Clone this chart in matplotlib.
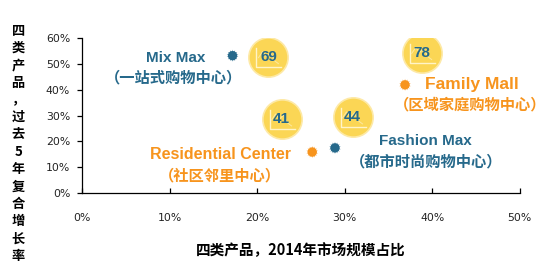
import matplotlib
matplotlib.use("Agg")
import matplotlib.pyplot as plt
from matplotlib.transforms import Affine2D
from matplotlib.ticker import FuncFormatter

# ---- data ----
names = ["Mix Max", "Family Mall", "Residential Center", "Fashion Max"]
names_cn = ["（一站式购物中心）", "（区域家庭购物中心）", "（社区邻里中心）", "（都市时尚购物中心）"]
share_2014 = [17.2, 36.9, 26.3, 28.9]       # x, %
cagr_5y = [53.2, 41.9, 15.9, 17.5]          # y, %
bubble_vals = [69, 78, 41, 44]
bubble_x = [21.3, 38.8, 22.8, 30.9]
bubble_y = [52.8, 54.4, 28.7, 29.5]
x_ticks = [0, 10, 20, 30, 40, 50]
y_ticks = [0, 10, 20, 30, 40, 50, 60]

TEAL = "#26698b"
ORANGE = "#f7941d"
YELLOW = "#fbd655"
colors = [TEAL, ORANGE, ORANGE, TEAL]

LAT = ["Liberation Sans", "Noto Sans CJK SC", "DejaVu Sans"]
CJK = ["Noto Sans CJK SC", "DejaVu Sans"]

fig = plt.figure(figsize=(5.5, 2.72), dpi=100)
ax = fig.add_axes([0.149, 0.290, 0.796, 0.570])
ax.set_xlim(0, 50)
ax.set_ylim(0, 60)
for s in ["top", "right"]:
    ax.spines[s].set_visible(False)
for s in ["left", "bottom"]:
    ax.spines[s].set_linewidth(0.9)
    ax.spines[s].set_color("black")

ax.set_xticks(x_ticks)
ax.set_yticks(y_ticks)
pct = FuncFormatter(lambda v, p: f"{v:.0f}%")
ax.xaxis.set_major_formatter(pct)
ax.yaxis.set_major_formatter(pct)
ax.tick_params(axis="x", direction="in", length=3.5, width=0.9, pad=14,
               labelsize=7.8, labelcolor="#222222")
ax.tick_params(axis="y", direction="out", length=3.5, width=0.9, pad=5,
               labelsize=7.8, labelcolor="#222222")
for lab in ax.get_xticklabels() + ax.get_yticklabels():
    lab.set_family("DejaVu Sans")

# points
ax.scatter(share_2014, cagr_5y, s=75, marker=(14, 1, 0), c=colors, zorder=4, linewidths=0)
ax.scatter(share_2014, cagr_5y, s=45, marker="o", c=colors, zorder=4, linewidths=0)

# bubbles
for v, bx, by in zip(bubble_vals, bubble_x, bubble_y):
    ax.scatter([bx], [by], s=800, c=YELLOW, edgecolors="#fde9a6", linewidths=1.2, zorder=3)
    center = ax.transData.transform((bx, by))
    t = Affine2D().translate(center[0], center[1])
    ax.plot([-12, -12, 13], [9, -10, -10], color="#fff4c8", lw=1.0, transform=t, zorder=3.5,
            clip_on=False)
    ax.plot([-10, -6, -2, 2, 6, 10], [-1, 5, 0, 4, -4, -7], color="#fde9a0", lw=0.7,
            transform=t, zorder=3.5, clip_on=False)
    ax.text(bx, by, str(v), ha="center", va="center", fontsize=11, fontweight="bold",
            color=TEAL, family=LAT, zorder=5)

# category labels (positions in data units): name x, y, chinese x, y, align, size
lab_pos = [
    (10.7, 52.4, 10.4, 44.8, "center", 11),
    (39.2, 41.9, 35.6, 34.2, "left", 12.5),
    (15.8, 14.8, 15.8, 7.0, "center", 11.5),
    (39.2, 20.2, 39.3, 12.4, "center", 11),
]
for n, cn, c, (x1, y1, x2, y2, ha, fs) in zip(names, names_cn, colors, lab_pos):
    ax.text(x1, y1, n, ha=ha, va="center", fontsize=fs, fontweight="bold", color=c, family=LAT)
    ax.text(x2, y2, cn, ha=ha, va="center", fontsize=11,
            fontweight="bold", color=c, family=CJK)

ax.set_xlabel("四类产品，2014年市场规模占比", fontsize=10.5, fontweight="bold",
              family=CJK, labelpad=14)
fig.text(0.033, 0.474, "\n".join("四类产品，过去5年复合增长率"), ha="center", va="center",
         fontsize=9.5, fontweight="bold", family=CJK, linespacing=1.3, multialignment="center")

fig.savefig("out.png", dpi=100)
